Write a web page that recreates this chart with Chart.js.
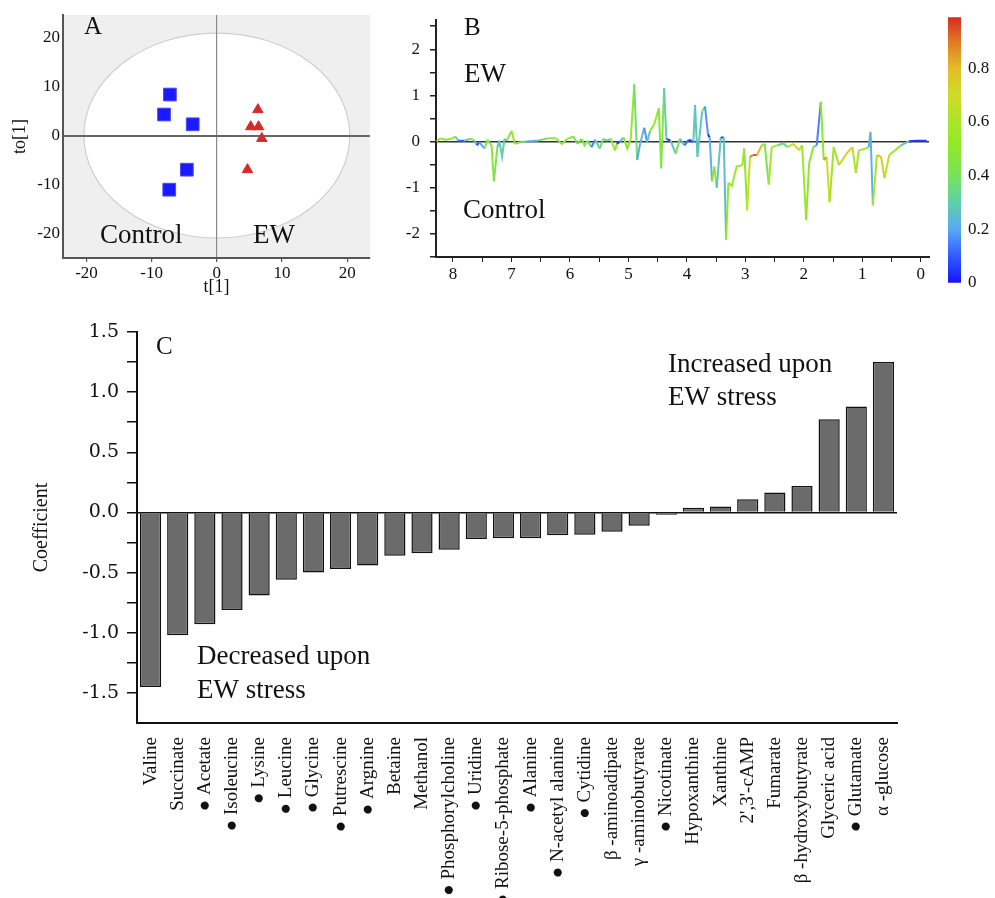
<!DOCTYPE html>
<html>
<head>
<meta charset="utf-8">
<script src="https://cdn.jsdelivr.net/npm/chart.js@4"></script>
<style>
  body{margin:0;background:#fff;}
  canvas{position:absolute;}
</style>
</head>
<body>
<canvas id="chartA" width="380" height="300" style="left:0;top:0"></canvas>
<canvas id="chartB" width="560" height="300" style="left:380px;top:0"></canvas>
<canvas id="chartBar" width="55" height="300" style="left:940px;top:0"></canvas>
<canvas id="chartC" width="995" height="588" style="left:0;top:310px"></canvas>
<script>
// ---- Panel A: OPLS-DA scores ----
const controlT  = [-7.2, -8.1, -3.7, -4.6, -7.3];
const controlTo = [8.4, 4.3, 2.3, -7.0, -11.1];
const ewT  = [6.3, 5.2, 6.4, 6.9, 4.7];
const ewTo = [5.3, 1.8, 1.8, -0.6, -7.0];
const ellipseRx = 20.4, ellipseRy = 21.0;
const scoreTicks = [-20, -10, 0, 10, 20];

// ---- Panel B: loadings (ppm, coefficient, |r| colour value) ----
const ppmB = [8.28,8.22,8.12,8.01,7.96,7.91,7.81,7.71,7.65,7.59,
  7.55,7.46,7.41,7.34,7.30,7.24,7.21,7.16,7.12,7.08,
  7.00,6.94,6.84,6.74,6.57,6.37,6.24,6.14,6.04,5.94,
  5.87,5.80,5.75,5.70,5.63,5.57,5.49,5.43,5.37,5.30,
  5.23,5.20,5.15,5.08,5.02,4.96,4.90,4.85,4.80,4.73,
  4.68,4.63,4.56,4.48,4.44,4.39,4.35,4.28,4.19,4.12,
  4.04,3.97,3.89,3.86,3.82,3.74,3.69,3.64,3.61,3.57,
  3.53,3.49,3.42,3.37,3.33,3.29,3.23,3.15,3.05,3.02,
  2.97,2.92,2.87,2.80,2.72,2.67,2.60,2.55,2.45,2.35,
  2.28,2.18,2.08,2.03,1.96,1.91,1.84,1.78,1.71,1.66,
  1.61,1.56,1.49,1.40,1.27,1.17,1.11,1.06,0.94,0.89,
  0.86,0.82,0.75,0.68,0.62,0.54,0.44,0.34,0.20,0.07,-0.10];
const loadB = [0,0.07,0.04,0.07,0.11,0.02,0.02,0.06,0.04,-0.08,
  -0.01,-0.15,0.04,-0.08,-0.86,-0.12,0.02,-0.33,0.06,0.02,
  0.23,-0.05,-0.01,0,0.02,0.07,0.07,-0.05,0.06,0.11,
  -0.05,0.06,-0.08,0.02,-0.12,0.04,-0.15,0.06,0.02,0.06,
  -0.19,-0.05,0,0.09,-0.15,0.06,1.24,-0.40,-0.05,0.30,
  -0.01,0.23,0.37,0.72,-0.58,1.16,0.06,0.02,-0.26,0.06,
  -0.08,0.04,0,0.79,-0.33,0.65,0.76,0.16,0.09,-0.86,
  -0.54,-1.00,0.09,0.09,-2.12,-0.89,-0.96,-0.54,-0.51,-0.15,
  -1.49,-0.33,-0.29,-0.29,-0.08,-0.05,-0.93,-0.12,-0.08,-0.04,
  -0.12,-0.05,-0.19,-0.08,-1.70,-0.47,-0.12,-0.08,0.86,-0.40,
  -0.33,-1.31,-0.12,-0.51,-0.26,-0.12,-0.68,-0.19,-0.15,-0.12,
  0.21,-1.38,-0.29,-0.33,-0.79,-0.29,-0.19,-0.08,0.01,0.02,0.02];
const corrB = [0.5,0.5,0.45,0.5,0.5,0.1,0.1,0.45,0.45,0.1,
  0.05,0.35,0.45,0.45,0.5,0.3,0.2,0.4,0.2,0.45,
  0.5,0.5,0.45,0.2,0.2,0.5,0.5,0.45,0.5,0.5,
  0.3,0.45,0.5,0.45,0.2,0.1,0.5,0.25,0.4,0.2,
  0.9,0.05,0.05,0.5,0.5,0.5,0.55,0.2,0.2,0.3,
  0.05,0.5,0.55,0.55,0.35,0.55,0.05,0.05,0.5,0.3,
  0.2,0.05,0.05,0.5,0.05,0.5,0.3,0.05,0.05,0.4,
  0.5,0.5,0.05,0.05,0.45,0.55,0.55,0.55,0.55,0.5,
  0.5,0.85,0.95,0.9,0.7,0.3,0.55,0.6,0.6,0.1,
  0.6,0.7,0.65,0.6,0.5,0.5,0.45,0.2,0.1,0.9,
  0.85,0.55,0.55,0.6,0.85,0.7,0.55,0.6,0.6,0.4,
  0.05,0.4,0.8,0.8,0.7,0.6,0.55,0.5,0.05,0.05,0.05];
const colorTicks = [0, 0.2, 0.4, 0.6, 0.8];

// ---- Panel C: coefficients ----
const metabolites = ['Valine','Succinate','\u25CF Acetate','\u25CF Isoleucine','\u25CF Lysine','\u25CF Leucine',
  '\u25CF Glycine','\u25CF Putrescine','\u25CF Argnine','Betaine','Methanol','\u25CF Phosphorylcholine',
  '\u25CF Uridine','\u25CF Ribose-5-phosphate','\u25CF Alanine','\u25CF N-acetyl alanine','\u25CF Cytidine',
  '\u03B2 -aminoadipate','\u03B3 -aminobutyrate','\u25CF Nicotinate','Hypoxanthine','Xanthine',"2',3'-cAMP",
  'Fumarate','\u03B2 -hydroxybutyrate','Glyceric acid','\u25CF Glutamate','\u03B1 -glucose'];
const coefficients = [-1.45,-1.02,-0.93,-0.81,-0.69,-0.56,-0.50,-0.47,-0.44,-0.36,-0.34,-0.31,
  -0.22,-0.215,-0.215,-0.19,-0.185,-0.16,-0.11,-0.02,0.04,0.05,0.11,0.165,0.22,0.775,0.88,1.25];

const serif = "'Liberation Serif', 'Times New Roman', serif";

// colour map used by the spectrum and the colour bar
const cmapStops = [[0,'#1414ff'],[0.1,'#2f5cff'],[0.2,'#5aa8f5'],[0.3,'#5fd0a8'],[0.4,'#78e25a'],
  [0.5,'#8fe82c'],[0.6,'#a8e628'],[0.7,'#cfdc28'],[0.8,'#e4bc28'],[0.9,'#de7a24'],[1,'#d62020']];
function hex(h){ return [1,3,5].map(i=>parseInt(h.slice(i,i+2),16)); }
function cmap(v){
  v = Math.max(0, Math.min(1, v));
  for(let i=1;i<cmapStops.length;i++){
    if(v <= cmapStops[i][0]){
      const [a0,c0] = cmapStops[i-1], [a1,c1] = cmapStops[i];
      const t = (v-a0)/(a1-a0), p = hex(c0), q = hex(c1);
      return 'rgb(' + p.map((x,k)=>Math.round(x+(q[k]-x)*t)).join(',') + ')';
    }
  }
  return cmapStops[cmapStops.length-1][1];
}

function textPlugin(id, items){
  return {id, afterDraw(chart){
    const c = chart.ctx;
    c.save();
    c.fillStyle = '#111';
    c.textAlign = 'left';
    c.textBaseline = 'alphabetic';
    items.forEach(t=>{ c.font = t.font; c.fillText(t.text, t.x, t.y); });
    c.restore();
  }};
}

// Panel A background: grey plot area with white T2 ellipse
const plotBg = {id:'plotBg', beforeDraw(chart){
  const {ctx, chartArea:a, scales:{x,y}} = chart;
  ctx.save();
  ctx.fillStyle = '#efefef';
  ctx.fillRect(a.left, a.top, a.width, a.height);
  const cx = x.getPixelForValue(0), cy = y.getPixelForValue(0);
  const rx = x.getPixelForValue(ellipseRx) - cx, ry = cy - y.getPixelForValue(ellipseRy);
  ctx.beginPath();
  ctx.ellipse(cx, cy, rx, ry, 0, 0, Math.PI*2);
  ctx.fillStyle = '#fff';
  ctx.fill();
  ctx.strokeStyle = '#cfcfcf';
  ctx.lineWidth = 1.2;
  ctx.stroke();
  ctx.restore();
}};

new Chart('chartA', {
  type:'scatter',
  data:{datasets:[
    {label:'Control', data:controlT.map((t,i)=>({x:t,y:controlTo[i]})), pointStyle:'rect',
     pointRadius:9, backgroundColor:'#1a1aff', borderColor:'#4a4aff', borderWidth:1},
    {label:'EW', data:ewT.map((t,i)=>({x:t,y:ewTo[i]})), pointStyle:'triangle',
     pointRadius:6, backgroundColor:'#d42a2a', borderColor:'#d42a2a', borderWidth:1}
  ]},
  options:{
    responsive:false, animation:false,
    layout:{padding:{top:15,right:7,left:0,bottom:0}},
    plugins:{legend:{display:false}, tooltip:{enabled:false}},
    scales:{
      x:{type:'linear', min:-23.6, max:23.5,
        afterBuildTicks:s=>{ s.ticks = scoreTicks.map(v=>({value:v})); },
        afterFit:s=>{ s.height = 42; },
        grid:{color:c=>c.tick && c.tick.value===0 ? '#8a8a8a' : 'transparent', lineWidth:1.2,
          tickColor:'#555', tickLength:4},
        border:{color:'#555', width:2},
        ticks:{color:'#111', font:{family:serif, size:17}, padding:1},
        title:{display:true, text:'t[1]', color:'#111', font:{family:serif, size:18}, padding:{top:2,bottom:2}}},
      y:{type:'linear', min:-25.1, max:24.7,
        afterBuildTicks:s=>{ s.ticks = scoreTicks.map(v=>({value:v})); },
        afterFit:s=>{ s.width = 63; },
        grid:{color:c=>c.tick && c.tick.value===0 ? '#666' : 'transparent', lineWidth:2, drawTicks:false},
        border:{color:'#555', width:2},
        ticks:{color:'#111', font:{family:serif, size:17}, padding:3},
        title:{display:true, text:'to[1]', color:'#111', font:{family:serif, size:18}, padding:{top:9}}}
    }
  },
  plugins:[plotBg, textPlugin('txtA', [
    {text:'A', x:84, y:34, font:'25px '+serif},
    {text:'Control', x:100, y:243, font:'27px '+serif},
    {text:'EW', x:253, y:243, font:'27px '+serif}
  ])]
});

// ---- Panel B ----
const halfSteps = [];
for(let v=0; v<=8; v+=0.5) halfSteps.push(v);
const quarterSteps = [];
for(let v=-2.5; v<=2.5001; v+=0.25) quarterSteps.push(Math.round(v*100)/100);

new Chart('chartB', {
  type:'line',
  data:{datasets:[{
    data:ppmB.map((p,i)=>({x:p, y:loadB[i]})),
    borderWidth:2, pointRadius:0, tension:0,
    segment:{borderColor:c=>cmap((corrB[c.p0DataIndex]+corrB[c.p1DataIndex])/2)}
  }]},
  options:{
    responsive:false, animation:false,
    layout:{padding:{top:13,right:11,left:0,bottom:0}},
    plugins:{legend:{display:false}, tooltip:{enabled:false}},
    scales:{
      x:{type:'linear', reverse:true, min:-0.14, max:8.29,
        afterBuildTicks:s=>{ s.ticks = halfSteps.map(v=>({value:v})); },
        afterFit:s=>{ s.height = 43; },
        grid:{drawOnChartArea:false, tickColor:'#222', tickLength:5},
        border:{color:'#222', width:2},
        ticks:{color:'#111', font:{family:serif, size:17}, padding:2,
          callback:v=>Number.isInteger(v) ? String(v) : ''}},
      y:{type:'linear', min:-2.5, max:2.63,
        afterBuildTicks:s=>{ s.ticks = quarterSteps.map(v=>({value:v})); },
        afterFit:s=>{ s.width = 56; },
        grid:{color:c=>c.tick && c.tick.value===0 ? '#333' : 'transparent', lineWidth:1.5,
          tickColor:'#222', tickLength:6},
        border:{color:'#222', width:2},
        ticks:{color:'#111', font:{family:serif, size:17}, padding:10,
          callback:v=>Number.isInteger(v) ? String(v) : ''}}
    }
  },
  plugins:[textPlugin('txtB', [
    {text:'B', x:84, y:35, font:'25px '+serif},
    {text:'EW', x:84, y:82, font:'27px '+serif},
    {text:'Control', x:83, y:218, font:'27px '+serif}
  ])]
});

// colour bar for panel B
new Chart('chartBar', {
  type:'bar',
  data:{labels:[''], datasets:[{
    data:[[0, 0.99]],
    barPercentage:1, categoryPercentage:1, borderWidth:0,
    backgroundColor:c=>{
      const ch = c.chart;
      if(!ch.chartArea) return '#888';
      const y = ch.scales.y;
      const g = ch.ctx.createLinearGradient(0, y.getPixelForValue(0), 0, y.getPixelForValue(1));
      cmapStops.forEach(([s,col])=>g.addColorStop(s, col));
      return g;
    }
  }]},
  options:{
    responsive:false, animation:false,
    layout:{padding:{top:10,left:8,right:0,bottom:12}},
    plugins:{legend:{display:false}, tooltip:{enabled:false}},
    scales:{
      x:{display:false},
      y:{position:'right', min:0, max:0.99,
        afterBuildTicks:s=>{ s.ticks = colorTicks.map(v=>({value:v})); },
        afterFit:s=>{ s.width = 34; },
        grid:{display:false, drawTicks:false, tickLength:0}, border:{display:false},
        ticks:{color:'#111', font:{family:serif, size:17}, padding:7}}
    }
  }
});

// ---- Panel C ----
const coefTicks = [];
for(let v=-1.5; v<=1.5001; v+=0.25) coefTicks.push(Math.round(v*100)/100);

new Chart('chartC', {
  type:'bar',
  data:{labels:metabolites, datasets:[{
    data:coefficients, backgroundColor:'#6b6b6b', borderColor:'#111', borderWidth:1.5,
    barPercentage:0.78, categoryPercentage:1
  }]},
  options:{
    responsive:false, animation:false,
    layout:{padding:{top:22,right:98,left:0,bottom:0}},
    plugins:{legend:{display:false}, tooltip:{enabled:false}},
    scales:{
      x:{
        afterFit:s=>{ s.height = 175; },
        grid:{display:true, drawOnChartArea:false, drawTicks:false},
        border:{color:'#111', width:2},
        ticks:{color:'#111', font:{family:serif, size:19}, padding:14,
          minRotation:90, maxRotation:90, autoSkip:false}},
      y:{min:-1.75, max:1.5,
        afterBuildTicks:s=>{ s.ticks = coefTicks.map(v=>({value:v})); },
        afterFit:s=>{ s.width = 137; },
        grid:{color:c=>c.tick && c.tick.value===0 ? '#111' : 'transparent', lineWidth:1.5,
          tickColor:'#111', tickLength:10},
        border:{color:'#111', width:2},
        ticks:{color:'#111', font:{family:"'DejaVu Serif', serif", size:19}, padding:8,
          callback:v=>Math.abs(v*2 - Math.round(v*2)) < 1e-6 ? v.toFixed(1) : ''},
        title:{display:true, text:'Coefficient', color:'#111', font:{family:serif, size:20}, padding:{top:30}}}
    }
  },
  plugins:[textPlugin('txtC', [
    {text:'C', x:156, y:44, font:'25px '+serif},
    {text:'Increased upon', x:668, y:62, font:'27px '+serif},
    {text:'EW stress', x:668, y:95, font:'27px '+serif},
    {text:'Decreased upon', x:197, y:354, font:'27px '+serif},
    {text:'EW stress', x:197, y:388, font:'27px '+serif}
  ])]
});
</script>
</body>
</html>
